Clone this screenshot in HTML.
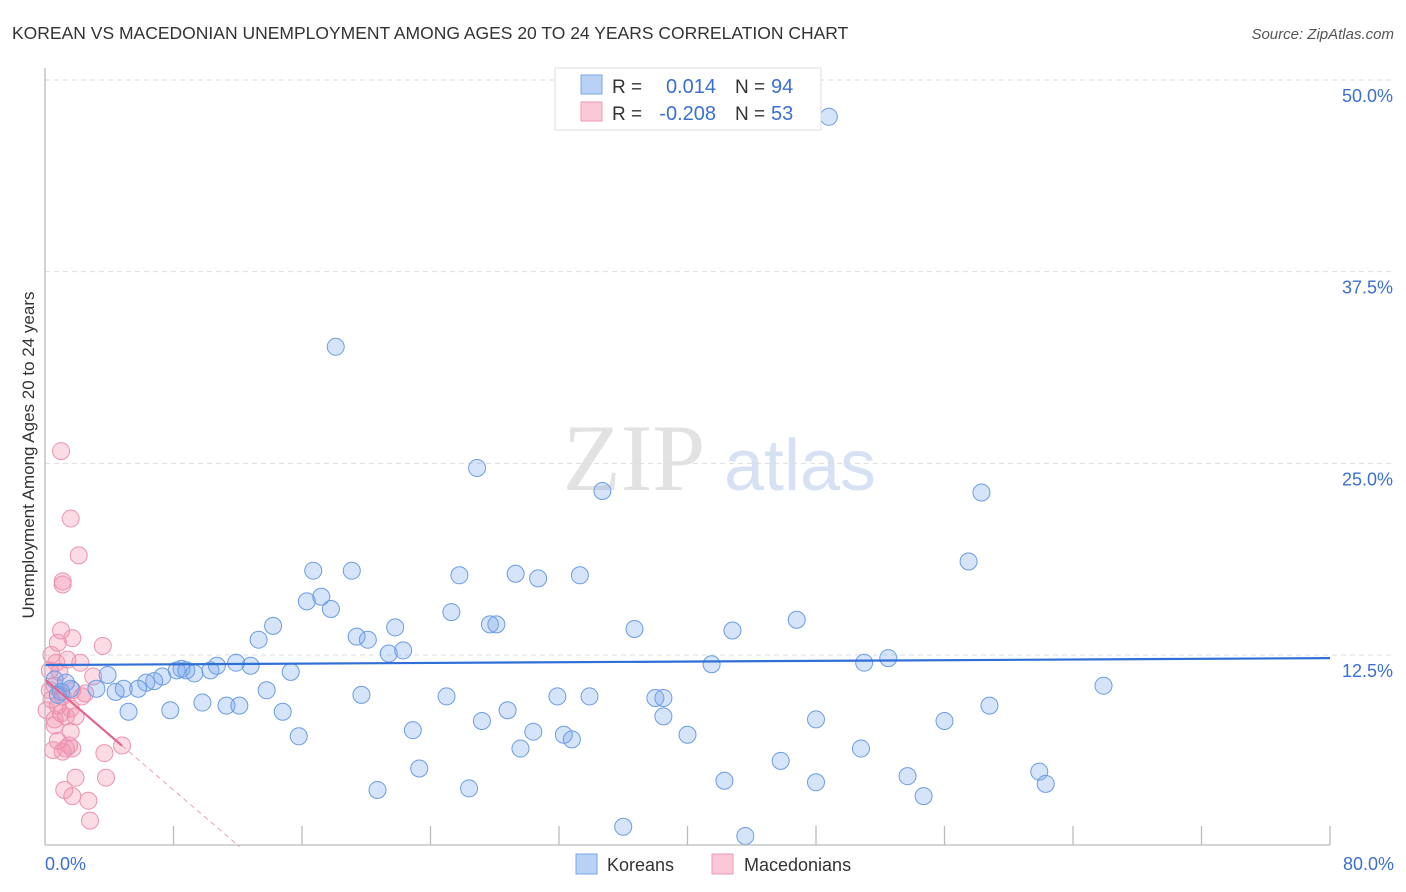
<!DOCTYPE html>
<html><head><meta charset="utf-8"><style>
body{margin:0;background:#fff;font-family:"Liberation Sans",sans-serif;}
#wrap{position:relative;width:1406px;height:892px;overflow:hidden;}
</style></head><body>
<div id="wrap">
<svg id="svg" width="1406" height="892" xmlns="http://www.w3.org/2000/svg" font-family="Liberation Sans, sans-serif">
<text x="12" y="39" font-size="17.5" fill="#333">KOREAN VS MACEDONIAN UNEMPLOYMENT AMONG AGES 20 TO 24 YEARS CORRELATION CHART</text>
<text x="1394" y="39" font-size="15" fill="#555" font-style="italic" text-anchor="end">Source: ZipAtlas.com</text>
<text x="634" y="490" font-size="95" fill="#e2e2e2" font-family="Liberation Serif, serif" text-anchor="middle">ZIP</text>
<text x="800" y="490" font-size="72" fill="#d6e2f4" text-anchor="middle">atlas</text>
<text transform="translate(34,455) rotate(-90)" font-size="17" fill="#333" text-anchor="middle">Unemployment Among Ages 20 to 24 years</text>
<g id="grid"></g><g id="pink"></g><g id="blue"></g><g id="trend"></g>
<line x1="45" y1="68" x2="45" y2="845" stroke="#bbb" stroke-width="1.3"/>
<line x1="45" y1="845" x2="1330" y2="845" stroke="#bbb" stroke-width="1.3"/>
<text x="45" y="870" font-size="18" fill="#3b6fd1">0.0%</text>
<text x="1394" y="870" font-size="18" fill="#3b6fd1" text-anchor="end">80.0%</text>
<g>
<rect x="555" y="68" width="266" height="62" fill="#fff" stroke="#ddd"/>
<rect x="581" y="75" width="21" height="19" fill="#b8d1f5" stroke="#7aa6e6"/>
<rect x="581" y="102" width="21" height="19" fill="#fbc8d7" stroke="#ef9ab5"/>
<text x="612" y="93" font-size="19" fill="#333">R = </text><text x="716" y="93" font-size="20" fill="#3b6fd1" text-anchor="end">0.014</text>
<text x="735" y="93" font-size="19" fill="#333">N = </text><text x="771" y="93" font-size="20" fill="#3b6fd1">94</text>
<text x="612" y="120" font-size="19" fill="#333">R = </text><text x="716" y="120" font-size="20" fill="#3b6fd1" text-anchor="end">-0.208</text>
<text x="735" y="120" font-size="19" fill="#333">N = </text><text x="771" y="120" font-size="20" fill="#3b6fd1">53</text>
</g>
<g><rect x="576" y="854" width="21" height="20" fill="#b8d1f5" stroke="#7aa6e6"/><text x="607" y="871" font-size="18" fill="#333">Koreans</text></g>
<g><rect x="712" y="854" width="21" height="20" fill="#fbc8d7" stroke="#ef9ab5"/><text x="744" y="871" font-size="18" fill="#333">Macedonians</text></g>
</svg>
</div>
<script>
const yTicks=[12.5,25,37.5,50];
const yTickLabels=["12.5%","25.0%","37.5%","50.0%"];
const xTicks=[8,16,24,32,40,48,56,64,72,80];
const koreanX=[40.2,48.8,18.1,26.9,34.7,58.3,57.5,16.7,19.1,25.8,29.3,30.7,33.3,16.3,17.2,17.8,14.2,25.3,27.7,28.1,21.8,46.8,36.7,42.8,13.3,19.4,20.1,21.4,22.3,11.9,12.8,10.7,8.5,8.2,8.8,9.3,10.3,7.3,6.3,6.8,3.9,15.3,41.5,51.0,52.5,65.9,3.2,4.4,4.9,5.8,1.6,1.0,13.8,19.7,25.0,31.9,33.9,38.0,38.5,9.8,11.3,12.1,5.2,7.8,14.8,28.8,27.2,38.5,48.0,56.0,58.8,15.8,22.9,30.4,32.3,32.8,40.0,29.6,50.8,45.8,23.3,53.7,61.9,42.3,48.0,62.3,20.7,26.4,54.7,36.0,43.6,0.6,1.3,0.8];
const koreanY=[50.0,47.6,32.6,24.7,23.2,23.1,18.6,18.0,18.0,17.7,17.8,17.5,17.7,16.0,16.3,15.5,14.4,15.3,14.5,14.5,14.3,14.8,14.2,14.1,13.5,13.7,13.5,12.6,12.8,12.0,11.8,11.8,11.6,11.5,11.5,11.3,11.5,11.1,10.7,10.8,11.2,11.4,11.9,12.0,12.3,10.5,10.3,10.1,10.3,10.3,10.3,10.1,10.2,9.9,9.8,9.8,9.8,9.7,9.7,9.4,9.2,9.2,8.8,8.9,8.8,8.9,8.2,8.5,8.3,8.2,9.2,7.2,7.6,7.5,7.3,7.0,7.3,6.4,6.4,5.6,5.1,4.6,4.9,4.3,4.2,4.1,3.7,3.8,3.3,1.3,0.7,10.9,10.7,9.9];
const macedX=[1.0,1.6,2.1,1.1,1.1,1.0,1.7,0.8,3.6,0.4,1.4,2.2,0.7,0.3,0.9,3.0,0.6,1.7,2.5,1.1,0.4,0.8,1.6,1.0,1.9,1.3,0.6,0.6,1.6,0.8,1.5,1.7,1.3,0.5,1.1,3.7,4.8,1.9,3.8,1.2,1.7,2.7,2.8,0.3,2.3,0.1];
const macedY=[25.8,21.4,19.0,17.3,17.1,14.1,13.6,13.3,13.1,12.5,12.2,12.0,12.0,11.5,11.4,11.1,10.5,10.2,10.0,9.8,9.6,9.2,9.0,8.7,8.5,8.5,8.3,7.9,7.5,6.9,6.6,6.4,6.4,6.3,6.2,6.1,6.6,4.5,4.5,3.7,3.3,3.0,1.7,10.2,9.8,8.9];
const koreanTrend=[11.85,0.0056]; // intercept, slope
const macedTrend=[10.9,-0.9];
const macedSolidEnd=4.8;

const X=v=>45+v*(1285/80);
const Y=v=>846.7-v*(766.7/50);
const NS="http://www.w3.org/2000/svg";
function mk(tag,attrs,parent){const e=document.createElementNS(NS,tag);for(const k in attrs)e.setAttribute(k,attrs[k]);document.getElementById(parent).appendChild(e);return e;}
yTicks.forEach((t,i)=>{
 const l=mk('line',{x1:45,x2:1394,y1:Y(t),y2:Y(t),stroke:'#ddd','stroke-dasharray':'5,4'},'grid');
 
 
 const tx=mk('text',{x:1393,y:Y(t)+22,'font-size':18,fill:'#3b6fd1','text-anchor':'end'},'grid');
 tx.textContent=yTickLabels[i];
 
 
});
xTicks.forEach(t=>{
 const l=mk('line',{x1:X(t),x2:X(t),y1:826,y2:845,stroke:'#bbb','stroke-width':1.3},'grid');
 
 
});
macedX.forEach((v,i)=>{
 const c=mk('circle',{cx:X(v),cy:Y(macedY[i]),r:8.5,fill:'rgba(243,140,170,0.3)',stroke:'#ec92b0','stroke-width':1},'pink');
 
 
});
koreanX.forEach((v,i)=>{
 const c=mk('circle',{cx:X(v),cy:Y(koreanY[i]),r:8.5,fill:'rgba(120,165,235,0.3)',stroke:'#6b9ce3','stroke-width':1},'blue');
 
 
});
const bt=mk('line',{x1:X(0),y1:Y(koreanTrend[0]),x2:X(80),y2:Y(koreanTrend[0]+koreanTrend[1]*80),stroke:'#2f6fd6','stroke-width':2.2},'trend');


const pt=mk('line',{x1:X(0),y1:Y(macedTrend[0]),x2:X(macedSolidEnd),y2:Y(macedTrend[0]+macedTrend[1]*macedSolidEnd),stroke:'#e2648f','stroke-width':2.2},'trend');


const zeroX=-macedTrend[0]/macedTrend[1];
const pd=mk('line',{x1:X(macedSolidEnd),y1:Y(macedTrend[0]+macedTrend[1]*macedSolidEnd),x2:X(zeroX),y2:Y(0),stroke:'#eba0b8','stroke-width':1,'stroke-dasharray':'5,4'},'trend');


</script>
</body></html>
